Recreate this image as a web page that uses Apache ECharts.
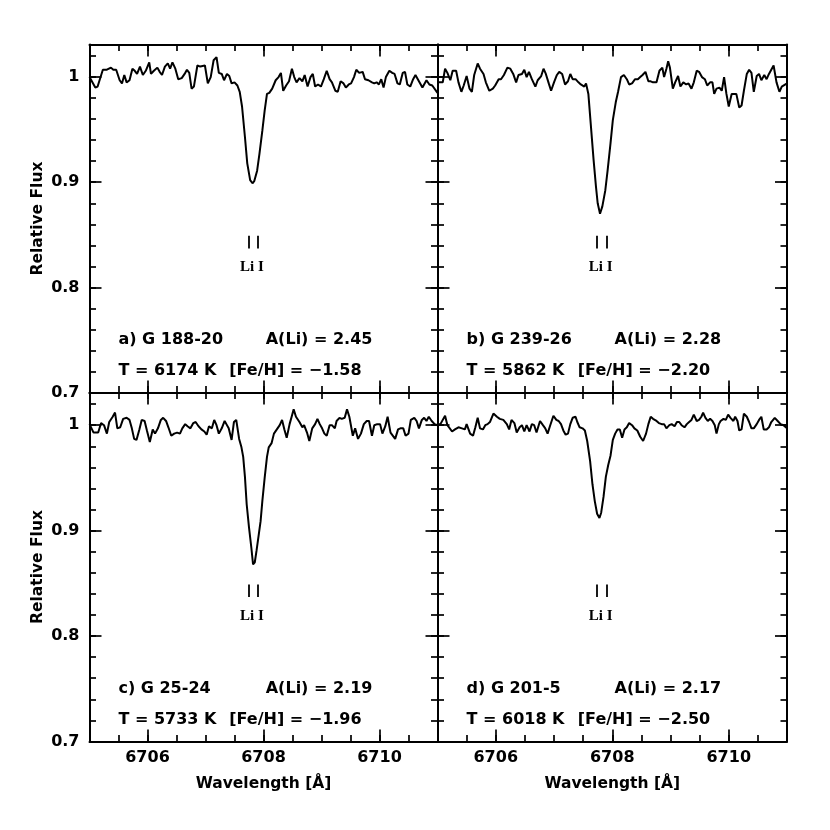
<!DOCTYPE html>
<html>
<head>
<meta charset="utf-8">
<script src="https://cdn.jsdelivr.net/npm/echarts@6/dist/echarts.min.js"></script>
<style>
html,body{margin:0;padding:0;background:#fff;}
#chart{width:830px;height:830px;}
</style>
</head>
<body>
<div id="chart"></div>
<script>
// ---- data ----
const wlMajorTicks = [6706, 6708, 6710];
const fluxMajorTicks = [0.7, 0.8, 0.9, 1.0];
const liLines = [6707.74, 6707.90];

const starNames = ['a) G 188-20', 'b) G 239-26', 'c) G 25-24', 'd) G 201-5'];
const aLi = ['2.45', '2.28', '2.19', '2.17'];
const teff = ['6174', '5862', '5733', '6018'];
const feh = ['\u22121.58', '\u22122.20', '\u22121.96', '\u22122.50'];

const specA = [[6705.00,1.000],[6705.10,0.990],[6705.14,0.991],[6705.23,1.007],[6705.30,1.007],[6705.37,1.009],[6705.41,1.007],[6705.46,1.007],[6705.52,0.997],[6705.56,0.994],[6705.60,1.002],[6705.64,0.995],[6705.69,0.997],[6705.74,1.008],[6705.78,1.006],[6705.82,1.003],[6705.87,1.010],[6705.92,1.002],[6705.97,1.006],[6706.03,1.014],[6706.06,1.003],[6706.11,1.006],[6706.17,1.009],[6706.21,1.005],[6706.25,1.002],[6706.30,1.010],[6706.35,1.013],[6706.39,1.008],[6706.43,1.014],[6706.48,1.008],[6706.53,0.998],[6706.59,0.999],[6706.64,1.003],[6706.68,1.007],[6706.72,1.004],[6706.76,0.989],[6706.80,0.991],[6706.86,1.011],[6706.91,1.010],[6706.99,1.011],[6707.04,0.994],[6707.09,1.000],[6707.14,1.016],[6707.19,1.019],[6707.23,1.004],[6707.28,1.003],[6707.32,0.997],[6707.37,1.003],[6707.41,1.001],[6707.45,0.994],[6707.50,0.995],[6707.55,0.992],[6707.59,0.986],[6707.63,0.972],[6707.68,0.943],[6707.72,0.918],[6707.77,0.902],[6707.81,0.899],[6707.84,0.901],[6707.89,0.911],[6707.93,0.927],[6707.98,0.949],[6708.02,0.968],[6708.06,0.984],[6708.10,0.985],[6708.15,0.989],[6708.21,0.997],[6708.26,1.000],[6708.30,1.004],[6708.34,0.987],[6708.39,0.992],[6708.44,0.996],[6708.49,1.008],[6708.53,1.000],[6708.57,0.995],[6708.62,0.999],[6708.67,0.996],[6708.71,1.002],[6708.76,0.991],[6708.81,1.000],[6708.85,1.003],[6708.89,0.991],[6708.94,0.993],[6708.99,0.991],[6709.04,0.998],[6709.09,1.006],[6709.14,0.998],[6709.18,0.995],[6709.24,0.987],[6709.28,0.986],[6709.33,0.996],[6709.38,0.994],[6709.42,0.990],[6709.47,0.993],[6709.51,0.994],[6709.56,1.000],[6709.60,1.007],[6709.65,1.004],[6709.71,1.005],[6709.75,0.998],[6709.81,0.997],[6709.87,0.995],[6709.91,0.994],[6709.95,0.995],[6709.99,0.993],[6710.03,0.998],[6710.07,0.990],[6710.11,1.000],[6710.17,1.006],[6710.22,1.004],[6710.26,1.003],[6710.31,0.994],[6710.35,0.993],[6710.40,1.004],[6710.44,1.005],[6710.48,0.993],[6710.53,0.991],[6710.58,0.998],[6710.62,1.002],[6710.67,0.997],[6710.74,0.990],[6710.77,0.990],[6710.81,0.997],[6710.86,0.993],[6710.91,0.992],[6711.00,0.985]];

const specB = [[6705.00,0.995],[6705.09,0.995],[6705.13,1.008],[6705.17,1.004],[6705.22,0.997],[6705.26,1.006],[6705.32,1.006],[6705.36,0.995],[6705.41,0.986],[6705.45,0.992],[6705.50,1.001],[6705.55,0.989],[6705.59,0.986],[6705.63,1.002],[6705.69,1.013],[6705.73,1.008],[6705.79,1.003],[6705.83,0.995],[6705.89,0.987],[6705.95,0.989],[6705.99,0.992],[6706.05,0.998],[6706.09,0.998],[6706.14,1.002],[6706.20,1.009],[6706.25,1.008],[6706.30,1.003],[6706.35,0.995],[6706.39,1.002],[6706.45,1.003],[6706.49,1.007],[6706.53,1.000],[6706.57,1.005],[6706.62,0.998],[6706.68,0.991],[6706.72,0.997],[6706.78,1.001],[6706.82,1.008],[6706.86,1.003],[6706.91,0.994],[6706.95,0.987],[6707.00,0.995],[6707.05,1.002],[6707.09,1.005],[6707.14,1.003],[6707.19,0.993],[6707.24,0.996],[6707.28,1.003],[6707.32,0.998],[6707.37,0.998],[6707.42,0.995],[6707.46,0.993],[6707.52,0.991],[6707.55,0.994],[6707.59,0.984],[6707.63,0.956],[6707.68,0.921],[6707.72,0.896],[6707.75,0.880],[6707.79,0.870],[6707.83,0.877],[6707.88,0.892],[6707.92,0.911],[6707.97,0.937],[6708.01,0.959],[6708.06,0.976],[6708.10,0.986],[6708.15,1.000],[6708.20,1.002],[6708.25,0.998],[6708.29,0.993],[6708.34,0.994],[6708.39,0.998],[6708.44,0.998],[6708.48,1.000],[6708.52,1.002],[6708.57,1.005],[6708.62,0.996],[6708.66,0.996],[6708.70,0.995],[6708.76,0.995],[6708.81,1.006],[6708.86,1.009],[6708.89,1.000],[6708.93,1.008],[6708.96,1.015],[6708.99,1.009],[6709.04,0.989],[6709.08,0.995],[6709.13,1.001],[6709.17,0.991],[6709.22,0.995],[6709.27,0.993],[6709.31,0.994],[6709.36,0.989],[6709.40,0.995],[6709.45,1.006],[6709.49,1.005],[6709.54,1.000],[6709.59,0.998],[6709.63,0.992],[6709.68,0.995],[6709.72,0.995],[6709.75,0.984],[6709.79,0.989],[6709.84,0.990],[6709.88,0.987],[6709.92,1.000],[6709.96,0.984],[6710.00,0.972],[6710.05,0.984],[6710.09,0.984],[6710.13,0.984],[6710.18,0.971],[6710.22,0.973],[6710.26,0.987],[6710.31,1.003],[6710.35,1.007],[6710.39,1.004],[6710.43,0.986],[6710.48,1.001],[6710.52,1.003],[6710.56,0.997],[6710.61,1.002],[6710.65,0.998],[6710.69,1.003],[6710.73,1.007],[6710.77,1.011],[6710.82,0.995],[6710.87,0.986],[6710.91,0.991],[6711.00,0.994]];

const specC = [[6705.00,1.001],[6705.07,0.993],[6705.15,0.993],[6705.20,1.002],[6705.25,1.000],[6705.30,0.992],[6705.34,1.003],[6705.40,1.008],[6705.44,1.012],[6705.48,0.997],[6705.53,0.998],[6705.58,1.006],[6705.64,1.007],[6705.69,1.005],[6705.73,0.997],[6705.77,0.987],[6705.81,0.986],[6705.86,0.996],[6705.90,1.005],[6705.95,1.004],[6705.99,0.995],[6706.04,0.984],[6706.09,0.996],[6706.13,0.992],[6706.18,0.997],[6706.23,1.005],[6706.27,1.007],[6706.32,1.004],[6706.36,0.998],[6706.41,0.990],[6706.46,0.992],[6706.51,0.993],[6706.56,0.992],[6706.60,0.997],[6706.65,1.001],[6706.69,0.999],[6706.74,0.997],[6706.79,1.002],[6706.83,1.003],[6706.88,0.999],[6706.93,0.996],[6706.98,0.994],[6707.02,0.991],[6707.06,0.999],[6707.11,0.997],[6707.15,1.005],[6707.19,1.000],[6707.23,0.992],[6707.28,0.997],[6707.33,1.004],[6707.36,1.001],[6707.40,0.997],[6707.45,0.986],[6707.49,1.003],[6707.53,1.005],[6707.58,0.987],[6707.62,0.979],[6707.65,0.970],[6707.68,0.951],[6707.71,0.925],[6707.75,0.903],[6707.79,0.884],[6707.82,0.868],[6707.85,0.870],[6707.88,0.881],[6707.92,0.897],[6707.95,0.909],[6707.98,0.928],[6708.02,0.950],[6708.06,0.970],[6708.09,0.979],[6708.14,0.983],[6708.18,0.992],[6708.23,0.996],[6708.28,1.000],[6708.32,1.005],[6708.36,0.996],[6708.40,0.988],[6708.45,1.001],[6708.49,1.009],[6708.52,1.015],[6708.56,1.008],[6708.62,1.003],[6708.67,0.998],[6708.70,1.000],[6708.75,0.993],[6708.79,0.985],[6708.84,0.997],[6708.89,1.001],[6708.93,1.006],[6708.97,1.001],[6709.01,0.997],[6709.05,0.992],[6709.09,0.990],[6709.14,1.000],[6709.18,1.000],[6709.23,0.997],[6709.26,1.004],[6709.31,1.007],[6709.35,1.006],[6709.40,1.007],[6709.44,1.015],[6709.48,1.008],[6709.54,0.990],[6709.58,0.997],[6709.63,0.987],[6709.68,0.992],[6709.73,1.001],[6709.78,1.004],[6709.82,1.004],[6709.87,0.990],[6709.91,1.000],[6709.96,1.001],[6710.01,1.001],[6710.05,0.992],[6710.10,0.999],[6710.14,1.008],[6710.19,0.993],[6710.22,0.992],[6710.27,0.987],[6710.32,0.996],[6710.36,0.997],[6710.41,0.997],[6710.45,0.990],[6710.50,0.992],[6710.54,1.005],[6710.60,1.007],[6710.64,1.004],[6710.68,0.997],[6710.73,1.005],[6710.77,1.007],[6710.81,1.004],[6710.85,1.008],[6710.90,1.004],[6710.95,1.001],[6711.00,1.000]];

const specD = [[6705.00,1.001],[6705.05,1.001],[6705.13,1.009],[6705.17,1.000],[6705.25,0.994],[6705.30,0.996],[6705.36,0.998],[6705.42,0.997],[6705.47,0.996],[6705.50,1.001],[6705.56,0.992],[6705.61,0.990],[6705.65,0.998],[6705.69,1.007],[6705.73,0.997],[6705.78,0.996],[6705.82,1.000],[6705.86,1.001],[6705.90,1.003],[6705.96,1.011],[6706.02,1.008],[6706.07,1.006],[6706.13,1.005],[6706.19,1.001],[6706.23,0.996],[6706.27,1.005],[6706.32,1.002],[6706.36,0.993],[6706.41,0.998],[6706.45,1.000],[6706.49,0.994],[6706.53,1.000],[6706.58,0.994],[6706.62,1.001],[6706.66,1.000],[6706.70,0.993],[6706.76,1.004],[6706.81,1.000],[6706.85,0.997],[6706.89,0.992],[6706.93,0.999],[6706.99,1.009],[6707.04,1.005],[6707.08,1.004],[6707.12,1.001],[6707.16,0.995],[6707.20,0.991],[6707.24,0.992],[6707.28,1.001],[6707.32,1.007],[6707.37,1.008],[6707.40,1.003],[6707.44,0.998],[6707.49,0.997],[6707.53,0.995],[6707.57,0.985],[6707.62,0.966],[6707.66,0.944],[6707.70,0.928],[6707.74,0.916],[6707.78,0.912],[6707.81,0.917],[6707.85,0.932],[6707.89,0.951],[6707.93,0.962],[6707.97,0.971],[6708.01,0.986],[6708.05,0.992],[6708.09,0.996],[6708.13,0.996],[6708.17,0.988],[6708.21,0.996],[6708.25,0.998],[6708.29,1.002],[6708.34,1.000],[6708.38,0.997],[6708.43,0.995],[6708.48,0.989],[6708.53,0.985],[6708.58,0.992],[6708.62,1.001],[6708.66,1.008],[6708.70,1.006],[6708.76,1.004],[6708.80,1.002],[6708.85,1.001],[6708.89,1.001],[6708.93,0.997],[6708.98,1.000],[6709.02,1.001],[6709.07,0.999],[6709.11,1.003],[6709.15,1.003],[6709.19,1.000],[6709.24,0.998],[6709.28,1.001],[6709.32,1.003],[6709.36,1.005],[6709.40,1.010],[6709.45,1.004],[6709.49,1.005],[6709.53,1.008],[6709.56,1.012],[6709.60,1.007],[6709.64,1.004],[6709.68,1.006],[6709.72,1.004],[6709.76,1.000],[6709.79,0.992],[6709.83,1.001],[6709.86,1.004],[6709.91,1.006],[6709.95,1.005],[6709.99,1.010],[6710.03,1.007],[6710.08,1.004],[6710.11,1.008],[6710.15,1.004],[6710.18,0.995],[6710.22,0.996],[6710.26,1.011],[6710.31,1.008],[6710.35,1.003],[6710.39,0.997],[6710.43,0.997],[6710.48,1.001],[6710.52,1.005],[6710.56,1.008],[6710.60,0.996],[6710.65,0.996],[6710.69,0.998],[6710.73,1.003],[6710.79,1.007],[6710.84,1.004],[6710.89,1.001],[6710.94,1.000],[6711.00,0.997]];

const spectra = [specA, specB, specC, specD];

// ---- layout ----
const grids = [
  {left: 89.5, top: 44.5, width: 348, height: 348},
  {left: 437.5, top: 44.5, width: 349.5, height: 348},
  {left: 89.5, top: 392.5, width: 348, height: 349},
  {left: 437.5, top: 392.5, width: 349.5, height: 349}
];
const X_MIN = 6705, X_MAX = 6711, Y_MIN = 0.7, Y_MAX = 1.031;
const FONT = 'DejaVu Sans';
const lineCol = '#000';
const tickStyle = {color: lineCol, width: 1.7};
const labelStyle = {color: '#000', fontFamily: FONT, fontWeight: 'bold', fontSize: 16};
const nameStyle = {color: '#000', fontFamily: FONT, fontWeight: 'bold', fontSize: 15.5};
const plainNum = v => String(Math.round(v * 1000) / 1000);

const xAxes = [], yAxes = [], series = [];

grids.forEach((g, gi) => {
  const bottomRow = gi >= 2, leftCol = gi % 2 === 0;
  ['bottom', 'top'].forEach(pos => {
    xAxes.push({
      gridIndex: gi, type: 'value', min: X_MIN, max: X_MAX, interval: 0.5, position: pos,
      axisLine: {show: true, onZero: false, lineStyle: {color: lineCol, width: 2}},
      axisTick: {show: true, inside: true, length: 6.5, lineStyle: tickStyle},
      axisLabel: {show: false}, splitLine: {show: false}, axisPointer: {show: false}
    });
    const showLab = pos === 'bottom' && bottomRow;
    xAxes.push({
      gridIndex: gi, type: 'value', min: X_MIN, max: X_MAX, position: pos,
      axisLine: {show: false, onZero: false},
      axisTick: {show: true, inside: true, length: 12, customValues: wlMajorTicks, lineStyle: tickStyle},
      axisLabel: Object.assign({show: showLab, customValues: wlMajorTicks, margin: 8, formatter: plainNum}, labelStyle),
      splitLine: {show: false},
      name: showLab ? 'Wavelength [\u00c5]' : '', nameLocation: 'middle', nameGap: 34,
      nameTextStyle: nameStyle
    });
  });
  ['left', 'right'].forEach(pos => {
    yAxes.push({
      gridIndex: gi, type: 'value', min: Y_MIN, max: Y_MAX, interval: 0.02, position: pos,
      axisLine: {show: true, onZero: false, lineStyle: {color: lineCol, width: 2}},
      axisTick: {show: true, inside: true, length: 6.5, lineStyle: tickStyle},
      axisLabel: {show: false}, splitLine: {show: false}
    });
    const showLab = pos === 'left' && leftCol;
    yAxes.push({
      gridIndex: gi, type: 'value', min: Y_MIN, max: Y_MAX, position: pos,
      axisLine: {show: false, onZero: false},
      axisTick: {show: true, inside: true, length: 12, customValues: fluxMajorTicks, lineStyle: tickStyle},
      axisLabel: Object.assign({show: showLab, customValues: fluxMajorTicks, margin: 10, formatter: plainNum}, labelStyle),
      splitLine: {show: false},
      name: showLab ? 'Relative Flux' : '', nameLocation: 'middle', nameGap: 44,
      nameTextStyle: nameStyle
    });
  });

  const annoLabel = {show: true, position: 'right', distance: 0, formatter: '{b}',
    color: '#000', fontFamily: FONT, fontWeight: 'bold', fontSize: 16};
  series.push({
    type: 'line', xAxisIndex: gi * 4, yAxisIndex: gi * 4,
    data: spectra[gi], showSymbol: false, symbol: 'none', smooth: false,
    lineStyle: {color: '#000', width: 2}, silent: true, clip: true,
    markLine: {
      silent: true, symbol: ['none', 'none'], animation: false,
      label: {show: false},
      lineStyle: {color: '#000', width: 1.8, type: 'solid'},
      data: liLines.map(w => [{coord: [w, 0.837]}, {coord: [w, 0.849]}])
    },
    markPoint: {
      silent: true, symbol: 'rect', symbolSize: 1, animation: false,
      itemStyle: {color: 'rgba(0,0,0,0)'},
      label: annoLabel,
      data: [
        {name: 'Li I', coord: [6707.80, 0.819],
          label: {show: true, position: 'inside', formatter: '{b}', color: '#000',
            fontFamily: 'Liberation Serif', fontWeight: 'bold', fontSize: 15}},
        {name: starNames[gi], coord: [6705.49, 0.750]},
        {name: 'A(Li) = ' + aLi[gi], coord: [6708.03, 0.750]},
        {name: 'T = ' + teff[gi] + ' K', coord: [6705.49, 0.7205]},
        {name: '[Fe/H] = ' + feh[gi], coord: [6707.40, 0.7205]}
      ]
    }
  });
});

const chart = echarts.init(document.getElementById('chart'), null, {renderer: 'canvas'});
chart.setOption({
  animation: false,
  backgroundColor: '#fff',
  grid: grids,
  xAxis: xAxes,
  yAxis: yAxes,
  series: series
});
</script>
</body>
</html>
